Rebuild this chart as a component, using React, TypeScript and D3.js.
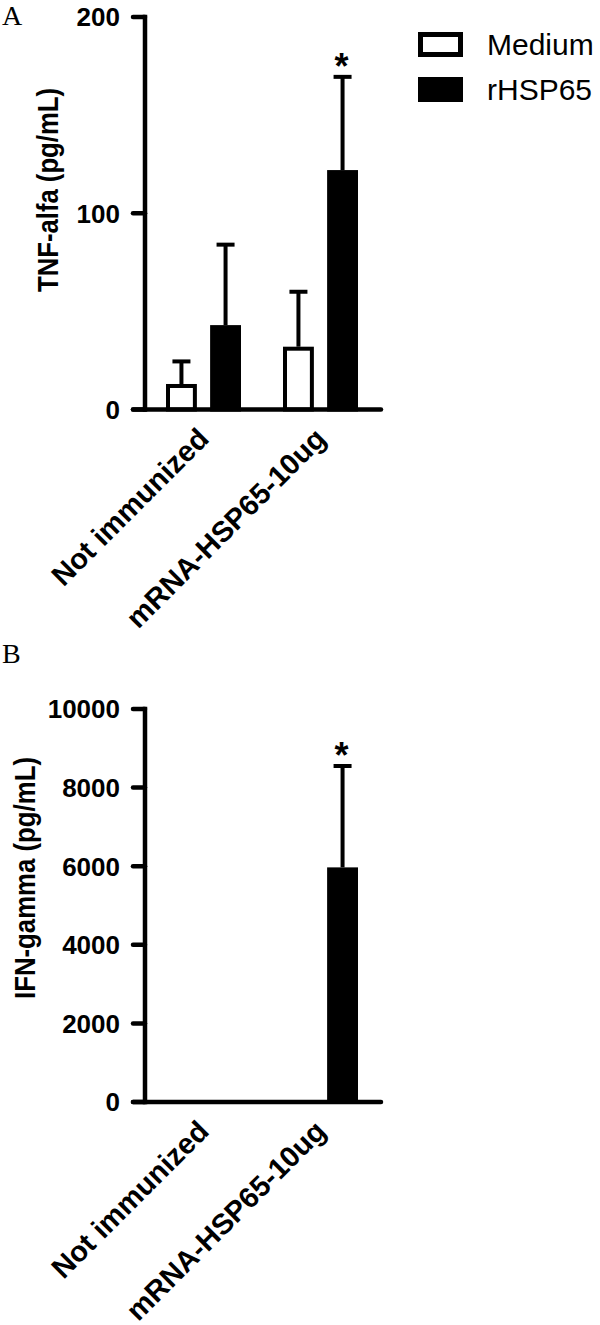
import * as d3 from "d3";
import React, { useRef, useEffect } from "react";

// groups on the x axis and the two stimulations
const groups = ["Not immunized", "mRNA-HSP65-10ug"];
const series = ["Medium", "rHSP65"];

// panel A: TNF-alfa (pg/mL), mean and upper SD
const tnfMedium = [13, 32];
const tnfMediumErr = [11.5, 28];
const tnfHsp = [43, 122];
const tnfHspErr = [41, 47.5];
const tnfTicks = [0, 100, 200];
const tnfStars = ["", "*"]; // rHSP65 significance per group

// panel B: IFN-gamma (pg/mL)
const ifnMedium = [0, 0];
const ifnMediumErr = [0, 0];
const ifnHsp = [0, 5970];
const ifnHspErr = [0, 2580];
const ifnTicks = [0, 2000, 4000, 6000, 8000, 10000];
const ifnStars = ["", "*"];

const SANS = "'Liberation Sans', Arial, Helvetica, sans-serif";
const SERIF = "'Liberation Serif', 'Times New Roman', serif";

function drawPanel(svg, p) {
  const g = svg.append("g");

  const y = d3.scaleLinear().domain([0, p.ticks[p.ticks.length - 1]]).range([p.bottom, p.top]);
  const x0 = d3.scalePoint().domain(groups).range([145, 379]).padding(0.5);
  const x1 = d3.scaleBand().domain(series).range([-37.5, 37.5]).paddingInner(0.3);

  // panel letter
  g.append("text")
    .attr("x", 2)
    .attr("y", p.letterY)
    .attr("font-family", SERIF)
    .attr("font-size", 28)
    .text(p.letter);

  // bars + error bars
  const sets = [
    { name: "Medium", vals: p.medium, errs: p.mediumErr, fill: "#fff" },
    { name: "rHSP65", vals: p.hsp, errs: p.hspErr, fill: "#000" },
  ];
  sets.forEach((s) => {
    groups.forEach((grp, i) => {
      const v = s.vals[i];
      const e = s.errs[i];
      const bx = x0(grp) + x1(s.name);
      const bw = x1.bandwidth();
      const cx = bx + bw / 2;
      if (v > 0) {
        g.append("rect")
          .attr("x", bx + 2)
          .attr("y", y(v) + 2)
          .attr("width", bw - 4)
          .attr("height", Math.max(0, y(0) - y(v) - 2))
          .attr("fill", s.fill)
          .attr("stroke", "#000")
          .attr("stroke-width", 4);
      }
      if (e > 0) {
        g.append("line")
          .attr("x1", cx).attr("x2", cx)
          .attr("y1", y(v)).attr("y2", y(v + e))
          .attr("stroke", "#000").attr("stroke-width", 4);
        g.append("line")
          .attr("x1", cx - 9).attr("x2", cx + 9)
          .attr("y1", y(v + e)).attr("y2", y(v + e))
          .attr("stroke", "#000").attr("stroke-width", 4);
      }
      if (s.name === "rHSP65" && p.stars[i]) {
        g.append("text")
          .attr("x", cx - 1)
          .attr("y", y(v + e) + 2)
          .attr("text-anchor", "middle")
          .attr("font-family", SANS)
          .attr("font-weight", "bold")
          .attr("font-size", 36)
          .text(p.stars[i]);
      }
    });
  });

  // y axis
  g.append("line")
    .attr("x1", 145).attr("x2", 145)
    .attr("y1", y(p.ticks[p.ticks.length - 1])).attr("y2", y(0))
    .attr("stroke", "#000").attr("stroke-width", 4.5).attr("stroke-linecap", "square");
  p.ticks.forEach((t) => {
    g.append("line")
      .attr("x1", 133).attr("x2", 145)
      .attr("y1", y(t)).attr("y2", y(t))
      .attr("stroke", "#000").attr("stroke-width", 4.5).attr("stroke-linecap", "round");
    g.append("text")
      .attr("x", 120)
      .attr("y", y(t))
      .attr("dy", "0.36em")
      .attr("text-anchor", "end")
      .attr("font-family", SANS)
      .attr("font-weight", "bold")
      .attr("font-size", 26)
      .text(t);
  });

  // x axis
  g.append("line")
    .attr("x1", 133).attr("x2", 381)
    .attr("y1", y(0)).attr("y2", y(0))
    .attr("stroke", "#000").attr("stroke-width", 4.5).attr("stroke-linecap", "round");

  groups.forEach((grp) => {
    const ax = x0(grp) + 7;
    const ay = y(0) + 31;
    g.append("text")
      .attr("transform", `translate(${ax},${ay}) rotate(-45)`)
      .attr("text-anchor", "end")
      .attr("font-family", SANS)
      .attr("font-weight", "bold")
      .attr("font-size", 29)
      .text(grp);
  });

  // y title (reference text is a bit condensed along its length)
  g.append("text")
    .attr("transform", `translate(${p.titleX},${p.titleY}) rotate(-90)`)
    .attr("text-anchor", "middle")
    .attr("font-family", SANS)
    .attr("font-weight", "bold")
    .attr("font-size", 30)
    .attr("textLength", p.titleLen)
    .attr("lengthAdjust", "spacingAndGlyphs")
    .text(p.title);

  // legend
  if (p.legend) {
    series.forEach((s, i) => {
      g.append("rect")
        .attr("x", 420.5)
        .attr("y", 34.5 + i * 45)
        .attr("width", 40)
        .attr("height", 20)
        .attr("fill", i === 0 ? "#fff" : "#000")
        .attr("stroke", "#000")
        .attr("stroke-width", 5);
      g.append("text")
        .attr("x", 487)
        .attr("y", 55 + i * 45)
        .attr("font-family", SANS)
        .attr("font-size", 30)
        .text(s);
    });
  }
}

function App() {
  const svgRef = useRef(null);

  useEffect(() => {
    const svg = d3.select(svgRef.current);
    svg.selectAll("*").remove();

    drawPanel(svg, {
      letter: "A",
      letterY: 25,
      title: "TNF-alfa (pg/mL)",
      titleX: 58,
      titleY: 190,
      titleLen: 204,
      ticks: tnfTicks,
      top: 17,
      bottom: 409.5,
      medium: tnfMedium,
      mediumErr: tnfMediumErr,
      hsp: tnfHsp,
      hspErr: tnfHspErr,
      stars: tnfStars,
      legend: true,
    });

    drawPanel(svg, {
      letter: "B",
      letterY: 663,
      title: "IFN-gamma (pg/mL)",
      titleX: 35,
      titleY: 878,
      titleLen: 242,
      ticks: ifnTicks,
      top: 709,
      bottom: 1102,
      medium: ifnMedium,
      mediumErr: ifnMediumErr,
      hsp: ifnHsp,
      hspErr: ifnHspErr,
      stars: ifnStars,
      legend: false,
    });
  }, []);

  return (
    <svg
      ref={svgRef}
      width={600}
      height={1325}
      style={{ position: "absolute", left: 0, top: 0, background: "#fff" }}
    />
  );
}

export default App;
